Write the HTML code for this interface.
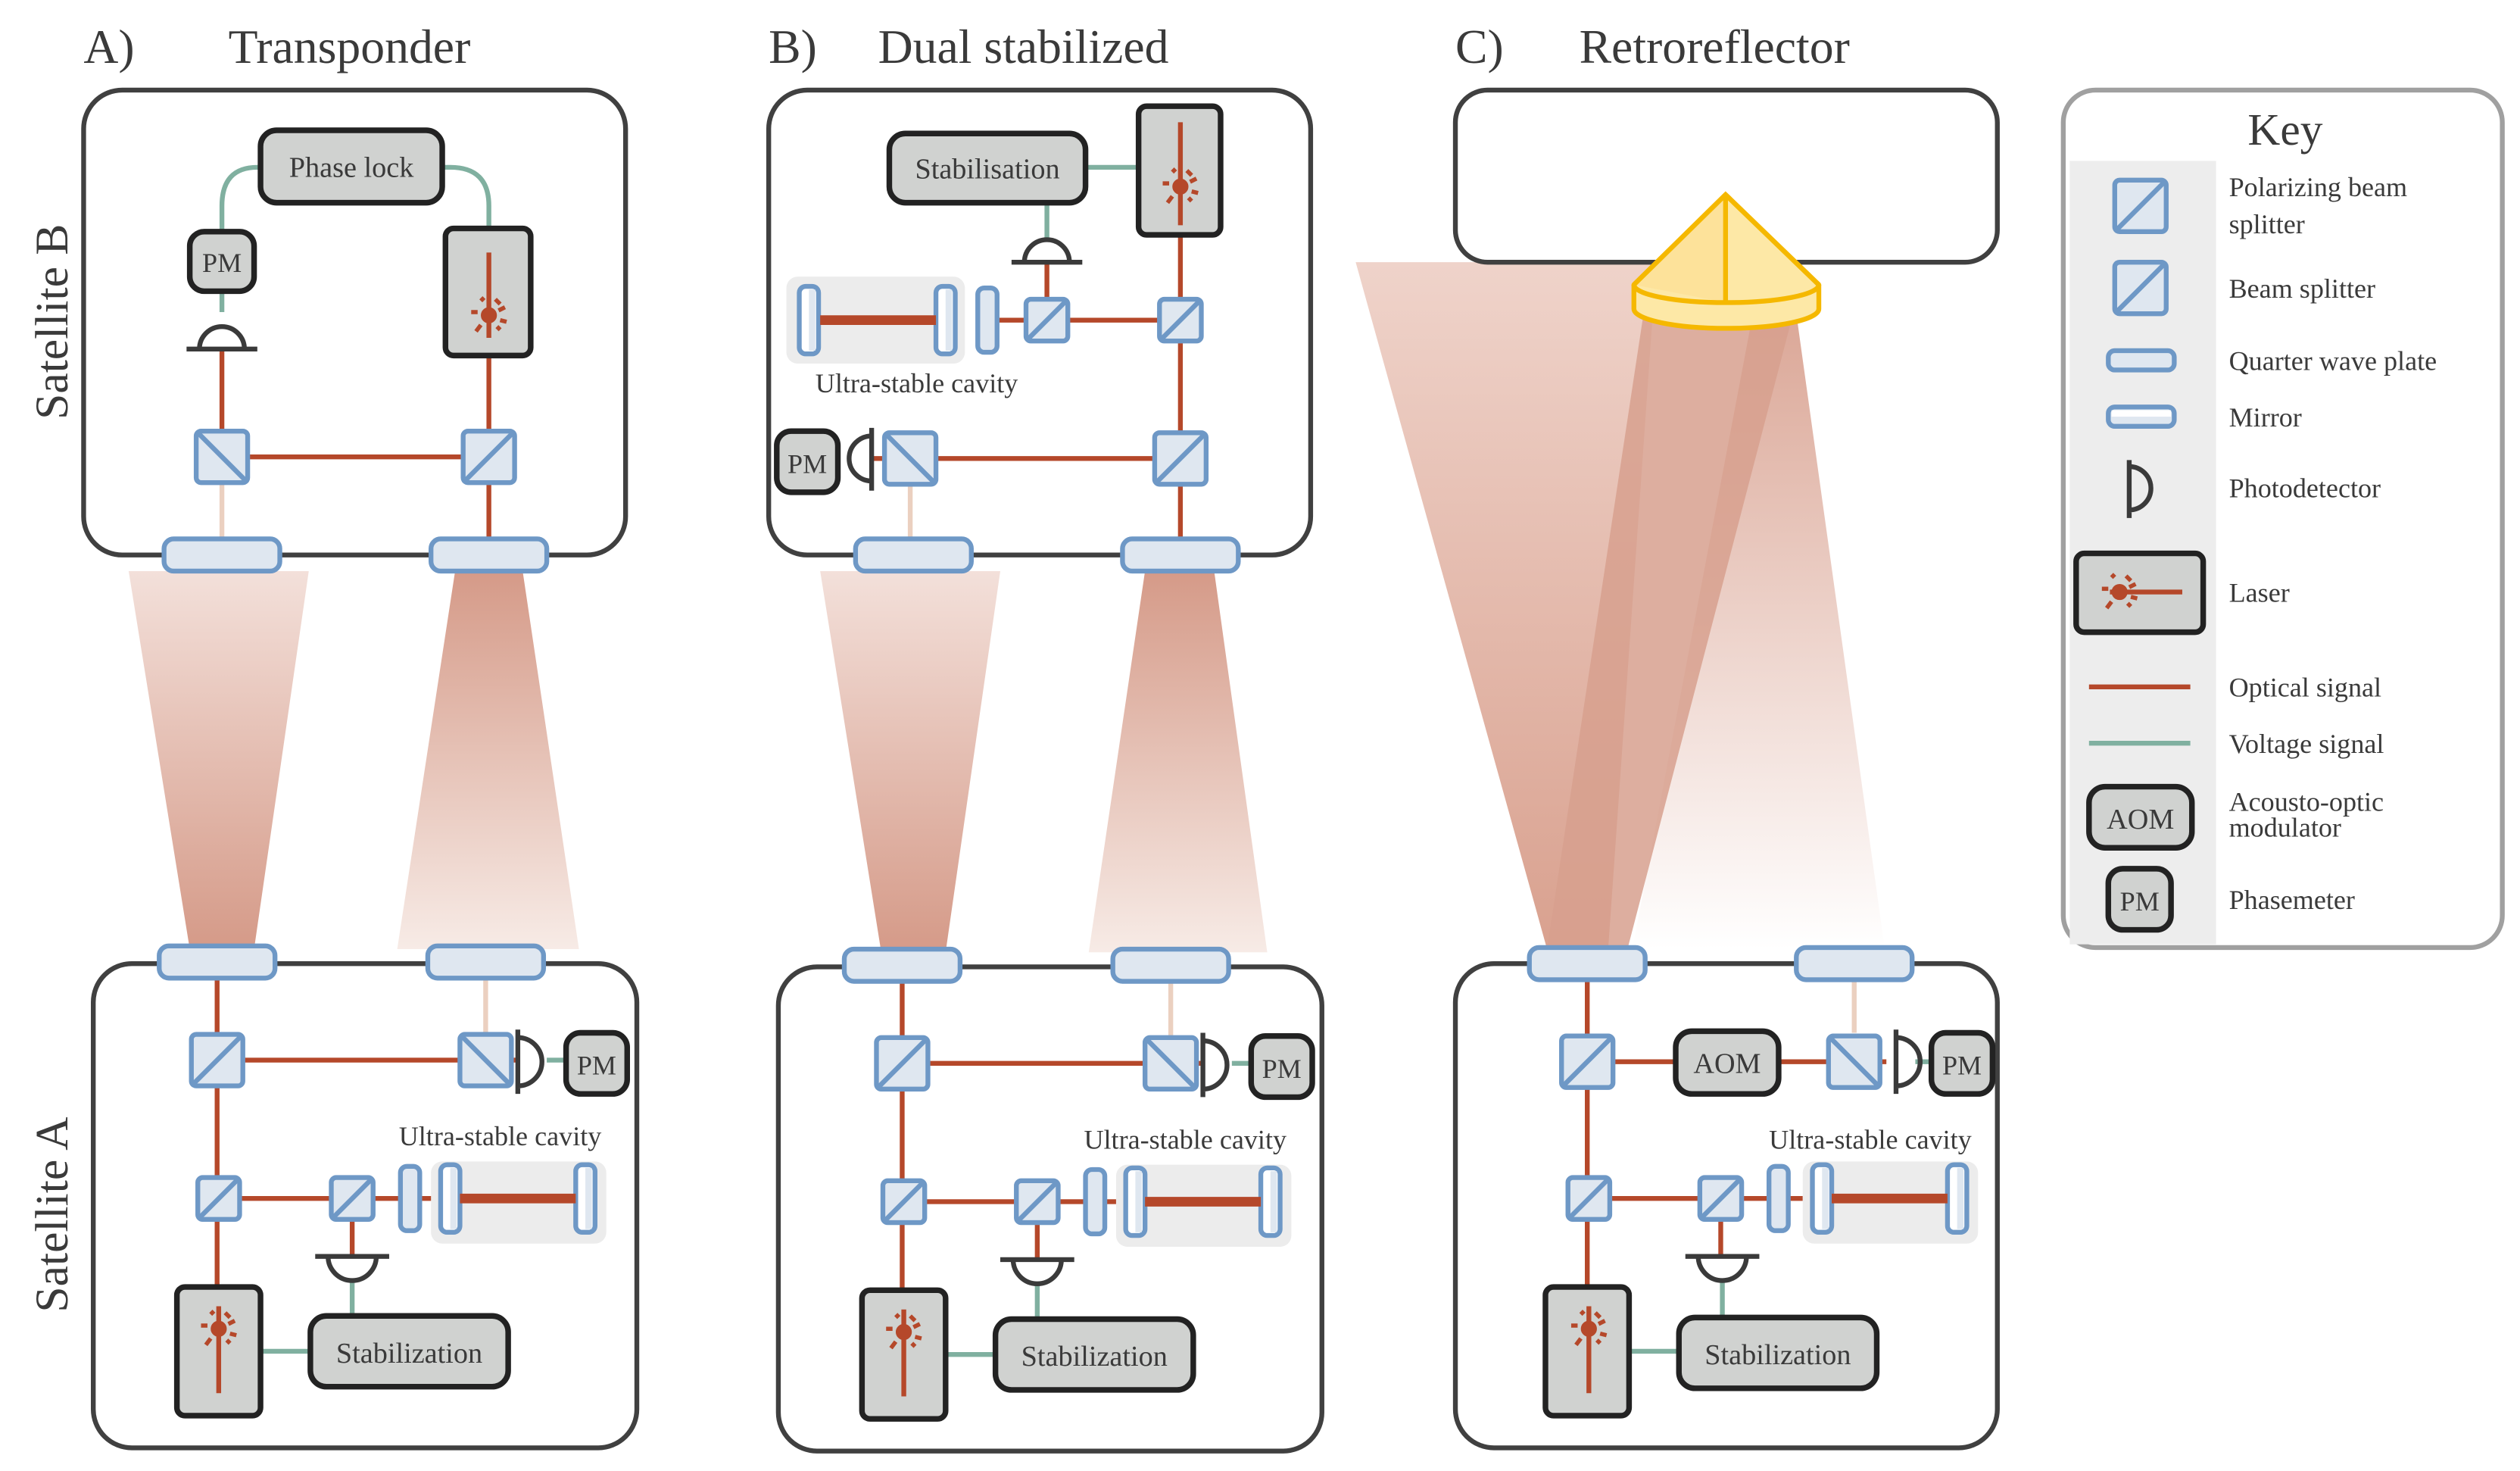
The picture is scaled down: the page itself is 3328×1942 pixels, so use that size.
<!DOCTYPE html>
<html><head><meta charset="utf-8"><style>
html,body{margin:0;padding:0;background:#fff}
svg{display:block}
</style></head><body>
<svg width="3328" height="1942" viewBox="0 0 1567 914.4" xmlns="http://www.w3.org/2000/svg" font-family="'Liberation Serif', serif" fill="#3a3a3a">
<defs>
<linearGradient id="gDown" x1="0" y1="0" x2="0" y2="1"><stop offset="0" stop-color="#f3e0da"/><stop offset="1" stop-color="#d59a88"/></linearGradient>
<linearGradient id="gUp" x1="0" y1="0" x2="0" y2="1"><stop offset="0" stop-color="#d59a88"/><stop offset="1" stop-color="#f7ebe6"/></linearGradient>
<linearGradient id="gFade" x1="0" y1="0" x2="0" y2="1"><stop offset="0" stop-color="#dba797"/><stop offset="1" stop-color="#ffffff"/></linearGradient>
<linearGradient id="gBig" x1="0" y1="0" x2="0" y2="1"><stop offset="0" stop-color="#efd3ca"/><stop offset="1" stop-color="#d9a18f"/></linearGradient>
<g id="pbs"><rect x="-16" y="-16" width="32" height="32" rx="3" fill="#dfe7f0" stroke="#6e98c6" stroke-width="3"/><line x1="-15" y1="-15" x2="15" y2="15" stroke="#6e98c6" stroke-width="3"/></g>
<g id="bs"><rect x="-16" y="-16" width="32" height="32" rx="3" fill="#dfe7f0" stroke="#6e98c6" stroke-width="3"/><line x1="-15" y1="15" x2="15" y2="-15" stroke="#6e98c6" stroke-width="3"/></g>
<g id="sbs"><rect x="-13" y="-13" width="26" height="26" rx="3" fill="#dfe7f0" stroke="#6e98c6" stroke-width="3"/><line x1="-12" y1="12" x2="12" y2="-12" stroke="#6e98c6" stroke-width="3"/></g>
<g id="win"><rect x="-36" y="-10" width="72" height="20" rx="6" fill="#dfe7f0" stroke="#6e98c6" stroke-width="3"/></g>
<g id="mir"><rect x="-6" y="-21" width="12" height="42" rx="4" fill="#fff" stroke="#6e98c6" stroke-width="3"/><rect x="0" y="-19" width="4" height="38" fill="#dfe7f0"/></g>
<g id="qwp"><rect x="-6" y="-20" width="12" height="40" rx="4" fill="#dfe7f0" stroke="#6e98c6" stroke-width="3"/></g>
<g id="sun" fill="#b5482a" stroke="#b5482a"><circle r="4.5"/><g stroke-width="2.6"><line x1="-11" y1="-2" x2="-7" y2="-2"/><line x1="7" y1="3" x2="11" y2="4"/><line x1="-3" y1="-11" x2="-5" y2="-9"/><line x1="4" y1="-10" x2="7" y2="-7"/><line x1="-5" y1="6" x2="-8" y2="10"/><line x1="5" y1="7" x2="7" y2="9"/><line x1="6" y1="-3" x2="10" y2="-5"/></g></g>
<g id="satA">
<rect x="58" y="599" width="338" height="301" rx="24" fill="#fff" stroke="#404040" stroke-width="3"/>
<g stroke="#b5482a" stroke-width="3" fill="none">
<line x1="135" y1="609" x2="135" y2="800"/>
<line x1="135" y1="659" x2="302" y2="659"/>
<line x1="302" y1="659" x2="322" y2="659"/>
<line x1="136" y1="745" x2="270" y2="745"/>
<line x1="219" y1="745" x2="219" y2="781"/>
<line x1="136" y1="808" x2="136" y2="866"/>
</g>
<line x1="302" y1="609" x2="302" y2="642" stroke="#ebd0c0" stroke-width="3"/>
<g stroke="#80b0a0" stroke-width="3"><line x1="219" y1="797" x2="219" y2="818"/><line x1="162" y1="840" x2="193" y2="840"/><line x1="340" y1="659" x2="352" y2="659"/></g>
<rect x="268" y="722" width="109" height="51" rx="7" fill="#ececec"/>
<use href="#win" x="135" y="598"/><use href="#win" x="302" y="598"/>
<use href="#bs" x="135" y="659"/><use href="#pbs" x="302" y="659"/>
<use href="#sbs" x="136" y="745"/><use href="#sbs" x="219" y="745"/>
<use href="#qwp" x="255" y="745"/><use href="#mir" x="280" y="745"/><use href="#mir" x="364" y="745"/>
<line x1="286" y1="745" x2="358" y2="745" stroke="#b5482a" stroke-width="6"/>
<path d="M322 640 V680 M322 645 A14 14 0 0 1 322 675" fill="none" stroke="#3a3a3a" stroke-width="3"/>
<rect x="352" y="642" width="38" height="38" rx="9" fill="#d0d2d0" stroke="#222" stroke-width="3.5"/>
<text x="371" y="668" font-size="17" text-anchor="middle" fill="#3a3a3a" font-family="'Liberation Serif', serif">PM</text>
<path d="M196 781 H242 M204 781 A15 15 0 0 0 234 781" fill="none" stroke="#3a3a3a" stroke-width="3"/>
<rect x="110" y="800" width="52" height="80" rx="5" fill="#d0d2d0" stroke="#222" stroke-width="3.5"/>
<line x1="136" y1="812" x2="136" y2="866" stroke="#b5482a" stroke-width="3"/>
<use href="#sun" x="136" y="826"/>
<rect x="193" y="818" width="123" height="44" rx="10" fill="#d0d2d0" stroke="#222" stroke-width="3.5"/>
<text x="254.5" y="847" font-size="18" text-anchor="middle" fill="#3a3a3a" font-family="'Liberation Serif', serif">Stabilization</text>
<text x="311" y="712" font-size="17" text-anchor="middle" fill="#3a3a3a" font-family="'Liberation Serif', serif">Ultra-stable cavity</text>
</g>
</defs>

<text x="52" y="39" font-size="30">A)</text><text x="142" y="39" font-size="30">Transponder</text>
<text x="478" y="39" font-size="30">B)</text><text x="546" y="39" font-size="30">Dual stabilized</text>
<text x="905" y="39" font-size="30">C)</text><text x="982" y="39" font-size="30">Retroreflector</text>
<text transform="translate(42,200) rotate(-90)" font-size="29" text-anchor="middle">Satellite B</text>
<text transform="translate(42,755) rotate(-90)" font-size="29" text-anchor="middle">Satellite A</text>

<polygon points="80,355 192,355 158,590 118,590" fill="url(#gDown)"/>
<polygon points="283,355 325,355 360,590 247,590" fill="url(#gUp)"/>
<polygon points="510,355 622,355 588,592 548,592" fill="url(#gDown)"/>
<polygon points="712,355 755,355 788,592 677,592" fill="url(#gUp)"/>
<polygon points="843,163 1030,163 1000,590 962,590" fill="url(#gBig)"/>
<polygon points="1090,195 1117,195 1172,590 1015,590" fill="url(#gFade)"/>
<polygon points="1022,195 1115,195 1012,590 962,590" fill="#d7a08e" opacity="0.85"/>

<rect x="52" y="56" width="337" height="289" rx="24" fill="#fff" stroke="#404040" stroke-width="3"/>
<g fill="none" stroke="#80b0a0" stroke-width="3">
<path d="M138 144 V128 Q138 104 160 104 H164"/><path d="M273 104 H280 Q304 104 304 128 V142"/><line x1="138" y1="181" x2="138" y2="194"/>
</g>
<g stroke="#b5482a" stroke-width="3"><line x1="138" y1="217" x2="138" y2="268"/><line x1="154" y1="284" x2="288" y2="284"/><line x1="304" y1="221" x2="304" y2="268"/><line x1="304" y1="300" x2="304" y2="335"/></g>
<line x1="138" y1="300" x2="138" y2="335" stroke="#ebd0c0" stroke-width="3"/>
<rect x="162" y="81" width="113" height="45" rx="10" fill="#d0d2d0" stroke="#222" stroke-width="3.5"/>
<text x="218.5" y="110" font-size="18" text-anchor="middle">Phase lock</text>
<rect x="118" y="144" width="40" height="37" rx="9" fill="#d0d2d0" stroke="#222" stroke-width="3.5"/>
<text x="138" y="169" font-size="17" text-anchor="middle">PM</text>
<path d="M116 217 H160 M124 217 A14 14 0 0 1 152 217" fill="none" stroke="#3a3a3a" stroke-width="3"/>
<rect x="277" y="142" width="53" height="79" rx="5" fill="#d0d2d0" stroke="#222" stroke-width="3.5"/>
<line x1="304" y1="157" x2="304" y2="210" stroke="#b5482a" stroke-width="3"/>
<use href="#sun" x="304" y="196"/>
<use href="#pbs" x="138" y="284"/><use href="#bs" x="304" y="284"/>
<use href="#win" x="138" y="345"/><use href="#win" x="304" y="345"/>

<rect x="478" y="56" width="337" height="289" rx="24" fill="#fff" stroke="#404040" stroke-width="3"/>
<g stroke="#80b0a0" stroke-width="3"><line x1="675" y1="104" x2="708" y2="104"/><line x1="651" y1="126" x2="651" y2="148"/></g>
<rect x="489" y="172" width="111" height="54" rx="7" fill="#ececec"/>
<g stroke="#b5482a" stroke-width="3"><line x1="651" y1="163" x2="651" y2="199"/><line x1="620" y1="199" x2="734" y2="199"/><line x1="734" y1="146" x2="734" y2="335"/><line x1="542" y1="285" x2="734" y2="285"/></g>
<line x1="566" y1="300" x2="566" y2="335" stroke="#ebd0c0" stroke-width="3"/>
<rect x="553" y="83" width="122" height="43" rx="10" fill="#d0d2d0" stroke="#222" stroke-width="3.5"/>
<text x="614" y="111" font-size="18" text-anchor="middle">Stabilisation</text>
<rect x="708" y="66" width="51" height="80" rx="5" fill="#d0d2d0" stroke="#222" stroke-width="3.5"/>
<line x1="734" y1="76" x2="734" y2="140" stroke="#b5482a" stroke-width="3"/>
<use href="#sun" x="734" y="116"/>
<path d="M629 163 H673 M637 163 A14 14 0 0 1 665 163" fill="none" stroke="#3a3a3a" stroke-width="3"/>
<use href="#mir" x="503" y="199"/><use href="#mir" x="588" y="199"/><use href="#qwp" x="614" y="199"/>
<line x1="510" y1="199" x2="582" y2="199" stroke="#b5482a" stroke-width="6"/>
<use href="#sbs" x="651" y="199"/><use href="#sbs" x="734" y="199"/>
<text x="570" y="244" font-size="17" text-anchor="middle">Ultra-stable cavity</text>
<use href="#pbs" x="566" y="285"/><use href="#bs" x="734" y="285"/>
<path d="M542 266 V305 M542 271 A14 14 0 0 0 542 299" fill="none" stroke="#3a3a3a" stroke-width="3"/>
<rect x="483" y="268" width="38" height="38" rx="9" fill="#d0d2d0" stroke="#222" stroke-width="3.5"/>
<text x="502" y="294" font-size="17" text-anchor="middle">PM</text>
<use href="#win" x="568" y="345"/><use href="#win" x="734" y="345"/>

<rect x="905" y="56" width="337" height="107" rx="20" fill="#fff" stroke="#404040" stroke-width="3"/>
<path d="M1016 177 L1073 121 L1131 177 L1131 192 A57 12 0 0 1 1016 192 Z" fill="#fde8a6" stroke="#f5b800" stroke-width="3" stroke-linejoin="round"/>
<path d="M1016 177 L1073 121 L1073 188 Z" fill="#fde29a"/>
<path d="M1016 177 A57 11 0 0 0 1131 177" fill="none" stroke="#f5b800" stroke-width="3"/>
<path d="M1016 177 L1073 121 L1131 177 M1073 121 V188" fill="none" stroke="#f5b800" stroke-width="3"/>

<use href="#satA"/>
<use href="#satA" x="426" y="2"/>

<g transform="translate(851,0)">
<rect x="54" y="599" width="337" height="301" rx="24" fill="#fff" stroke="#404040" stroke-width="3"/>
<g stroke="#b5482a" stroke-width="3" fill="none">
<line x1="136" y1="609" x2="136" y2="800"/>
<line x1="136" y1="660" x2="302" y2="660"/>
<line x1="302" y1="660" x2="322" y2="660"/>
<line x1="137" y1="745" x2="270" y2="745"/>
<line x1="219" y1="745" x2="219" y2="781"/>
</g>
<line x1="302" y1="609" x2="302" y2="642" stroke="#ebd0c0" stroke-width="3"/>
<g stroke="#80b0a0" stroke-width="3"><line x1="220" y1="797" x2="220" y2="818"/><line x1="162" y1="840" x2="193" y2="840"/><line x1="340" y1="660" x2="350" y2="660"/></g>
<rect x="270" y="722" width="109" height="51" rx="7" fill="#ececec"/>
<use href="#win" x="136" y="599"/><use href="#win" x="302" y="599"/>
<use href="#bs" x="136" y="660"/><use href="#pbs" x="302" y="660"/>
<rect x="191" y="641" width="64" height="39" rx="10" fill="#d0d2d0" stroke="#222" stroke-width="3.5"/>
<text x="223" y="667" font-size="18" text-anchor="middle">AOM</text>
<use href="#sbs" x="137" y="745"/><use href="#sbs" x="219" y="745"/>
<use href="#qwp" x="255" y="745"/><use href="#mir" x="282" y="745"/><use href="#mir" x="366" y="745"/>
<line x1="288" y1="745" x2="360" y2="745" stroke="#b5482a" stroke-width="6"/>
<path d="M328 640 V680 M328 645 A14 14 0 0 1 328 675" fill="none" stroke="#3a3a3a" stroke-width="3"/>
<rect x="350" y="642" width="38" height="38" rx="9" fill="#d0d2d0" stroke="#222" stroke-width="3.5"/>
<text x="369" y="668" font-size="17" text-anchor="middle">PM</text>
<path d="M197 781 H243 M205 781 A15 15 0 0 0 235 781" fill="none" stroke="#3a3a3a" stroke-width="3"/>
<rect x="110" y="800" width="52" height="80" rx="5" fill="#d0d2d0" stroke="#222" stroke-width="3.5"/>
<line x1="137" y1="812" x2="137" y2="866" stroke="#b5482a" stroke-width="3"/>
<use href="#sun" x="137" y="826"/>
<rect x="193" y="819" width="123" height="44" rx="10" fill="#d0d2d0" stroke="#222" stroke-width="3.5"/>
<text x="254.5" y="848" font-size="18" text-anchor="middle">Stabilization</text>
<text x="312" y="714" font-size="17" text-anchor="middle">Ultra-stable cavity</text>
</g>

<rect x="1283" y="56" width="273" height="533" rx="20" fill="#fff" stroke="#a0a0a0" stroke-width="3"/>
<rect x="1287" y="100" width="91" height="487" fill="#ededed"/>
<text x="1421" y="90" font-size="28" text-anchor="middle">Key</text>
<use href="#bs" x="1331" y="128"/>
<use href="#bs" x="1331" y="179"/>
<rect x="1311" y="218" width="41" height="12" rx="4" fill="#dfe7f0" stroke="#6e98c6" stroke-width="3"/>
<rect x="1311" y="253" width="41" height="12" rx="4" fill="#dfe7f0" stroke="#6e98c6" stroke-width="3"/>
<rect x="1313" y="255" width="37" height="4" fill="#fff"/>
<path d="M1324 286 V322 M1324 290 A13 13 0 0 1 1324 317" fill="none" stroke="#3a3a3a" stroke-width="3"/>
<rect x="1291" y="344" width="79" height="49" rx="5" fill="#d0d2d0" stroke="#222" stroke-width="3.5"/>
<line x1="1312" y1="368" x2="1357" y2="368" stroke="#b5482a" stroke-width="3"/>
<use href="#sun" x="1318" y="368"/>
<line x1="1299" y1="427" x2="1362" y2="427" stroke="#b5482a" stroke-width="3"/>
<line x1="1299" y1="462" x2="1362" y2="462" stroke="#80b0a0" stroke-width="3"/>
<rect x="1299" y="489" width="64" height="38" rx="10" fill="#d0d2d0" stroke="#222" stroke-width="3.5"/>
<text x="1331" y="515" font-size="18" text-anchor="middle">AOM</text>
<rect x="1311" y="540" width="39" height="38" rx="9" fill="#d0d2d0" stroke="#222" stroke-width="3.5"/>
<text x="1330.5" y="566" font-size="17" text-anchor="middle">PM</text>
<g font-size="17">
<text x="1386" y="122">Polarizing beam</text><text x="1386" y="145">splitter</text>
<text x="1386" y="185">Beam splitter</text>
<text x="1386" y="230">Quarter wave plate</text>
<text x="1386" y="265">Mirror</text>
<text x="1386" y="309">Photodetector</text>
<text x="1386" y="374">Laser</text>
<text x="1386" y="433">Optical signal</text>
<text x="1386" y="468">Voltage signal</text>
<text x="1386" y="504">Acousto-optic</text><text x="1386" y="520">modulator</text>
<text x="1386" y="565">Phasemeter</text>
</g>
</svg>
</body></html>
